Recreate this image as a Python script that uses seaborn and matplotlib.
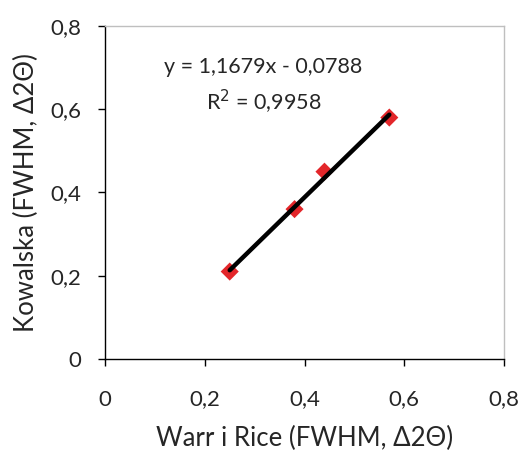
import numpy as np
import pandas as pd
import matplotlib
matplotlib.use("Agg")
import matplotlib.pyplot as plt
import seaborn as sns
from matplotlib.ticker import FuncFormatter

# values
warr_rice = [0.25, 0.38, 0.44, 0.57]
kowalska = [0.21, 0.36, 0.45, 0.58]
ticks = [0, 0.2, 0.4, 0.6, 0.8]

data = pd.DataFrame({"x": warr_rice, "y": kowalska})

sns.set_style("white")
plt.rcParams['font.family'] = ['Lato', 'DejaVu Sans']

fig = plt.figure(figsize=(5.23, 4.54), dpi=100)
ax = fig.add_axes([0.2008, 0.2093, 0.7629, 0.7335])

sns.scatterplot(data=data, x="x", y="y", marker="D", s=85, color="#E3262A",
                edgecolor="none", ax=ax, zorder=2)
sns.regplot(data=data, x="x", y="y", scatter=False, ci=None, ax=ax,
            line_kws={"color": "black", "linewidth": 3.2, "zorder": 3})

ax.set_xlim(0, 0.8)
ax.set_ylim(0, 0.8)
ax.set_xticks(ticks)
ax.set_yticks(ticks)
fmt = FuncFormatter(lambda v, p: "0" if v == 0 else f"{v:.1f}".replace(".", ","))
ax.xaxis.set_major_formatter(fmt)
ax.yaxis.set_major_formatter(fmt)
ax.tick_params(axis="both", direction="out", length=5, width=1, color="black",
               labelsize=16, bottom=True, left=True)
ax.tick_params(axis="y", pad=12)
ax.tick_params(axis="x", pad=17)

for side in ["left", "bottom"]:
    ax.spines[side].set_color("black")
    ax.spines[side].set_linewidth(1)
for side in ["top", "right"]:
    ax.spines[side].set_color("#BFBFBF")
    ax.spines[side].set_linewidth(1)

ax.set_xlabel("Warr i Rice (FWHM, Δ2Θ)", fontsize=18.5, labelpad=12)
ax.set_ylabel("Kowalska (FWHM, Δ2Θ)", fontsize=18.5, labelpad=8)

ax.text(0.318, 0.702, "y = 1,1679x - 0,0788", ha="center", va="center", fontsize=15.5)
ax.text(0.318, 0.618, "R$^2$ = 0,9958", ha="center", va="center", fontsize=15.5)

fig.savefig("out.png", dpi=100)
